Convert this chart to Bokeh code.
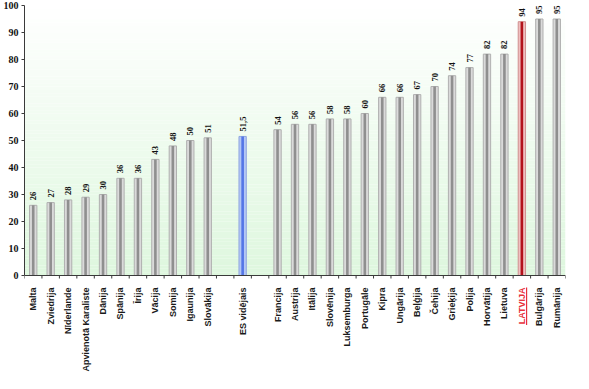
import math
from bokeh.plotting import figure
from bokeh.models import FixedTicker, Range1d, Span
from bokeh.core.properties import value
from bokeh.embed import file_html
from bokeh.resources import INLINE

# ---- data ----
group_a = ["Malta", "Zviedrija", "Nīderlande", "Apvienotā Karaliste", "Dānija",
           "Spānija", "Īrija", "Vācija", "Somija", "Igaunija", "Slovākija"]
values_a = [26, 27, 28, 29, 30, 36, 36, 43, 48, 50, 51]
avg_name = "ES vidējais"
avg_value = 51.5
group_b = ["Francija", "Austrija", "Itālija", "Slovēnija", "Luksemburga", "Portugāle",
           "Kipra", "Ungārija", "Beļģija", "Čehija", "Grieķija", "Polija", "Horvātija",
           "Lietuva", "LATVIJA", "Bulgārija", "Rumānija"]
values_b = [54, 56, 56, 58, 58, 60, 66, 66, 67, 70, 74, 77, 82, 82, 94, 95, 95]
y_ticks = [0, 10, 20, 30, 40, 50, 60, 70, 80, 90, 100]
highlight = "LATVIJA"

# ---- layout of slots (empty slots are gaps) ----
slots = group_a + [""] + [avg_name] + [""] + group_b
names = group_a + [avg_name] + group_b
vals = values_a + [avg_value] + values_b
xs = [i for i, s in enumerate(slots) if s]
labels = [("%g" % v).replace(".", ",") for v in vals]

def style(n):
    if n == avg_name:
        return ("#b3c7f5", "#5476e6", "#90a6e0")
    if n == highlight:
        return ("#efc0c0", "#b3121b", "#d09090")
    return ("#dadada", "#8f8f8f", "#b0b0b0")

outer = [style(n)[0] for n in names]
inner = [style(n)[1] for n in names]
edge = [style(n)[2] for n in names]
label_colors = ["#e8303a" if n == highlight else "#1a1a1a" for n in names]

W, H = 573, 373
TOP_PAD = 5
AXIS_PX = 270          # pixels from 0 to 100
ppu = AXIS_PX / 100.0
y_low = -(H - TOP_PAD - AXIS_PX) / ppu   # room below the axis for category labels
LABEL_GAP = 12
LABEL_SIZE = 9.0

p = figure(width=W, height=H, output_backend="svg", toolbar_location=None,
           x_range=Range1d(-0.5, len(slots) - 0.5), y_range=Range1d(y_low, 100),
           x_axis_location=None,
           min_border_left=22, min_border_right=8, min_border_top=TOP_PAD, min_border_bottom=0)
p.outline_line_color = None
p.background_fill_color = "white"
p.border_fill_color = "white"
p.xgrid.visible = False
p.ygrid.visible = False

# gradient background (white at top -> light green at bottom)
nb = 80
bot, top, cols = [], [], []
for k in range(nb):
    b = 100.0 * k / nb
    t = 100.0 * (k + 1) / nb
    f = 1 - (b + t) / 200.0  # 1 at bottom, 0 at top
    r = int(round(255 - f * (255 - 222)))
    g = int(round(255 - f * (255 - 247)))
    bl = int(round(255 - f * (255 - 222)))
    bot.append(b); top.append(t); cols.append("#%02x%02x%02x" % (r, g, bl))
p.quad(left=-0.5, right=len(slots) - 0.5, bottom=bot, top=top, fill_color=cols, line_color=None)

# bars
p.vbar(x=xs, top=vals, bottom=0, width=0.42, fill_color=outer, line_color=edge, line_width=1)
p.vbar(x=xs, top=vals, bottom=0, width=0.15, fill_color=inner, line_color=None)

# value labels
p.text(x=xs, y=vals, text=labels, angle=math.pi / 2, text_align="left", text_baseline="middle",
       y_offset=-5, text_font=value("Liberation Serif"), text_font_style="bold",
       text_font_size="8.5px", text_color="#111111")

# category axis (drawn inside the frame so that one label can be coloured)
p.add_layout(Span(location=0, dimension="width", line_color="#3a3a3a", line_width=1))
bounds = [i - 0.5 for i in range(len(slots) + 1)]
p.segment(x0=bounds, y0=[0] * len(bounds), x1=bounds, y1=[-3 / ppu] * len(bounds),
          line_color="#3a3a3a", line_width=1)
p.text(x=xs, y=[0] * len(xs), text=names, angle=math.pi / 2, text_align="right",
       text_baseline="middle", y_offset=LABEL_GAP, text_font=value("Liberation Sans"),
       text_font_style="bold", text_font_size="%gpx" % LABEL_SIZE, text_color=label_colors)
# underline of highlighted label
hx = xs[names.index(highlight)]
ul = 4.17 * LABEL_SIZE
p.rect(x=[hx + 0.27], y=[-(LABEL_GAP + ul / 2) / ppu], width=1.2, height=ul,
       width_units="screen", height_units="screen", fill_color="#e8303a", line_color=None)

ay = p.yaxis[0]
ay.bounds = (0, 100)
ay.ticker = FixedTicker(ticks=y_ticks, minor_ticks=[])
ay.major_tick_out = 3
ay.major_tick_in = 0
ay.major_label_standoff = 3
ay.major_label_text_font = "Liberation Serif"
ay.major_label_text_font_style = "bold"
ay.major_label_text_font_size = "10px"
ay.major_label_text_color = "#111111"
ay.axis_line_color = "#3a3a3a"
ay.major_tick_line_color = "#3a3a3a"

open("out.html", "w").write(file_html(p, INLINE))
